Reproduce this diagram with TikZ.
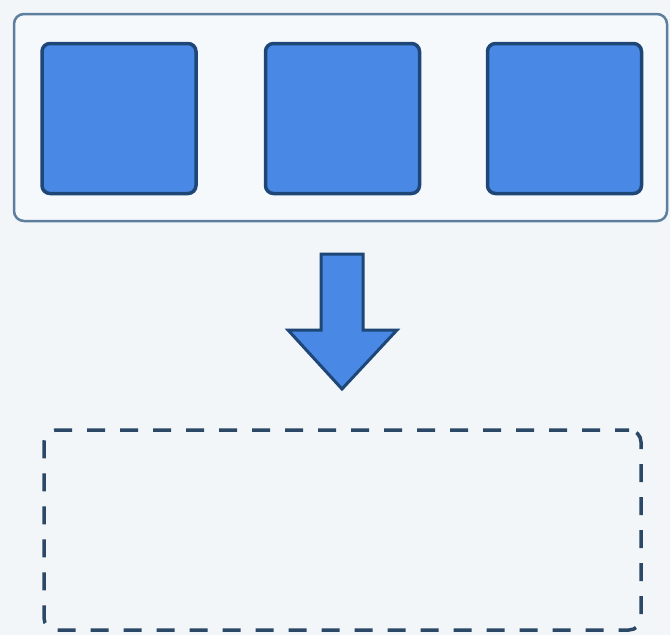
\documentclass[tikz,border=0pt]{standalone}
\usepackage{tikz}
\usetikzlibrary{positioning}

\definecolor{bgpaper}{HTML}{F3F6F9}
\definecolor{frameline}{HTML}{5E7E9E}
\definecolor{framefill}{HTML}{F6F9FC}
\definecolor{blockfill}{HTML}{4A88E6}
\definecolor{blockline}{HTML}{1E4677}
\definecolor{dashline}{HTML}{2B4866}

\begin{document}
\begin{tikzpicture}[x=1pt, y=-1pt,
    block/.style={draw=blockline, fill=blockfill, line width=3.5pt, rounded corners=8pt,
      minimum width=154pt, minimum height=150pt, inner sep=0pt},
    frame/.style={draw=frameline, fill=framefill, line width=2.5pt, rounded corners=10pt,
      minimum width=653pt, minimum height=207pt, inner sep=0pt},
    slot/.style={draw=dashline, line width=3.5pt, rounded corners=12pt,
      dash pattern=on 18pt off 15pt, dash phase=4pt,
      minimum width=597pt, minimum height=200pt, inner sep=0pt}]
    \fill[bgpaper] (0,0) rectangle (670,635);
    \useasboundingbox (0,0) rectangle (670,635);
    % top row
    \node[frame] (row) at (340.5,117.5) {};
    \node[block] (b1) at (119,118.5) {};
    \node[block, right=66pt of b1] (b2) {};
    \node[block, right=64.5pt of b2] (b3) {};
    % arrow down
    \coordinate (tip) at (342,389);
    \filldraw[draw=blockline, fill=blockfill, line width=3pt, line join=miter]
      (321,254) -- (363,254) -- (363,330) -- (397,330) -- (tip) -- (288,330) -- (321,330) -- cycle;
    % empty target
    \node[slot] (target) at (342.5,530) {};
  \end{tikzpicture}
\end{document}
